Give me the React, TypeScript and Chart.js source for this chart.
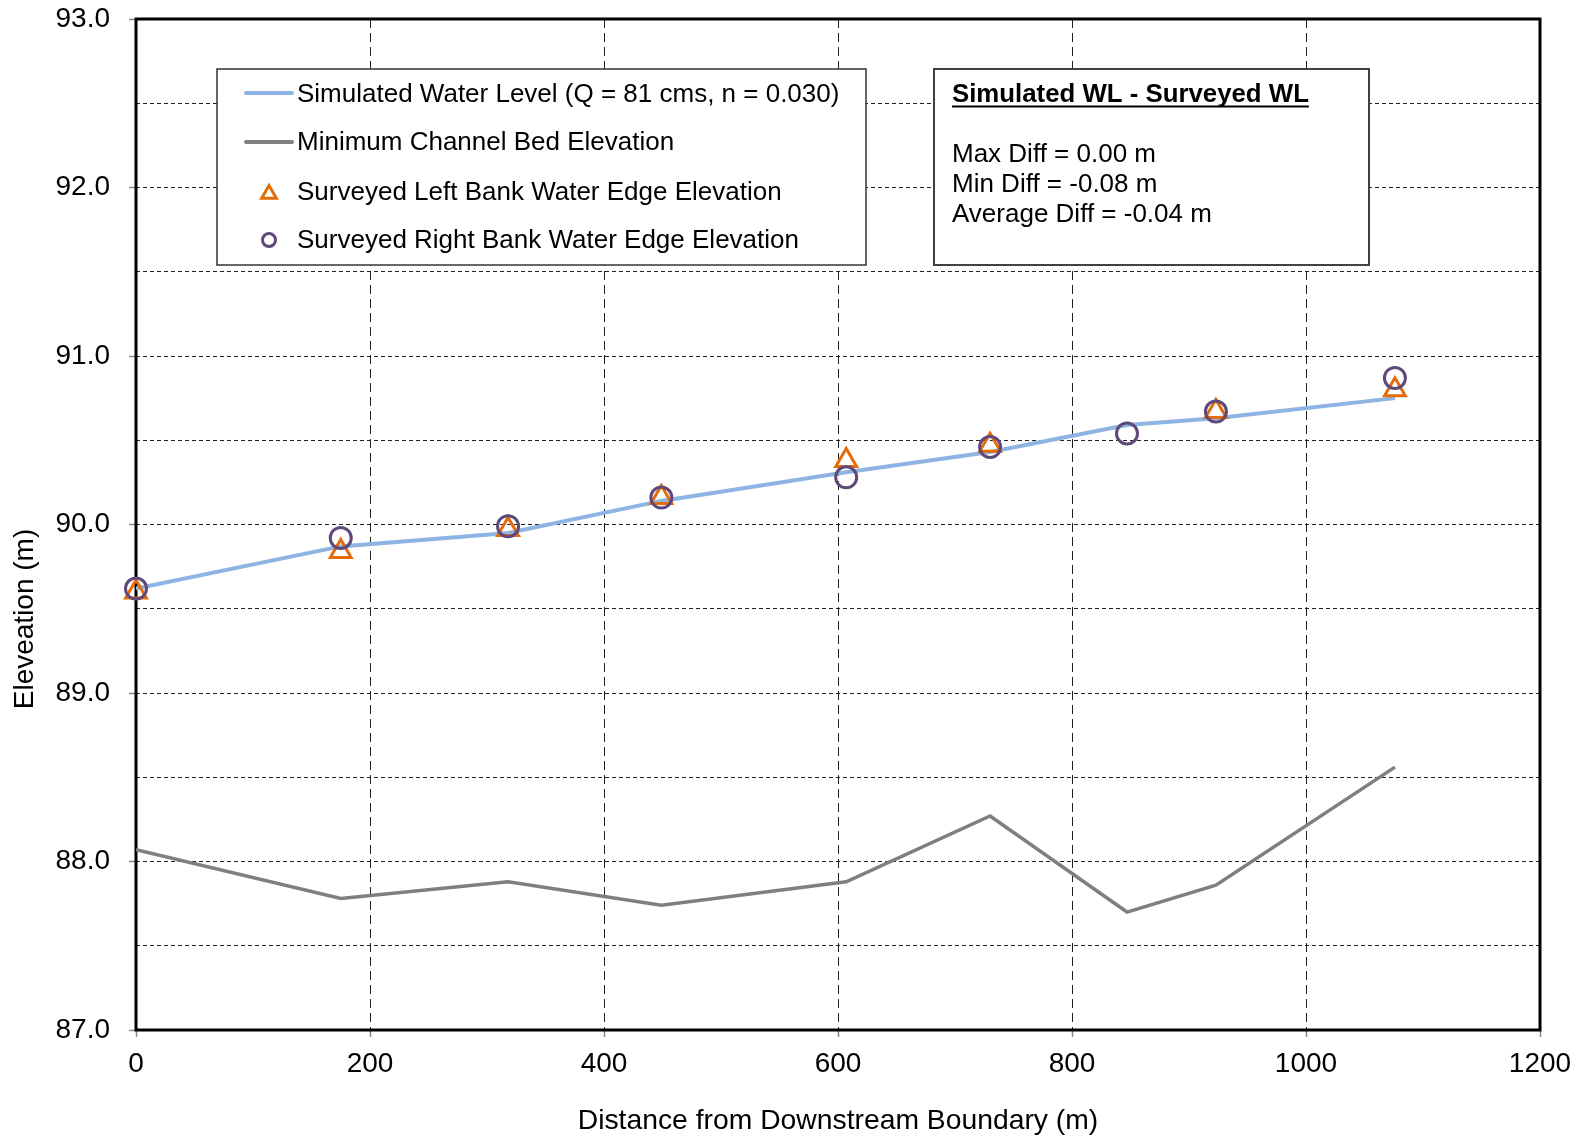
import React, { useEffect, useRef } from 'react';
import { Chart, registerables } from 'chart.js';

Chart.register(...registerables);

// ---------------- data ----------------
const distances = [0, 175, 318, 449, 607, 730, 847, 923, 1076];
const simulatedWL = [89.62, 89.87, 89.95, 90.14, 90.31, 90.43, 90.59, 90.63, 90.75];
const minBedElevation = [88.07, 87.78, 87.88, 87.74, 87.88, 88.27, 87.7, 87.86, 88.56];
const leftBankWL: (number | null)[] = [89.6, 89.84, 89.97, 90.16, 90.38, 90.47, null, 90.67, 90.8];
const rightBankWL = [89.62, 89.92, 89.99, 90.16, 90.28, 90.46, 90.54, 90.67, 90.87];

const seriesLabels = [
  'Simulated Water Level (Q = 81 cms, n = 0.030)',
  'Minimum Channel Bed Elevation',
  'Surveyed Left Bank Water Edge Elevation',
  'Surveyed Right Bank Water Edge Elevation',
];
const statsTitle = 'Simulated WL - Surveyed WL';
const statsLines = ['Max Diff = 0.00 m', 'Min Diff = -0.08 m', 'Average Diff = -0.04 m'];
const xAxisTitle = 'Distance from Downstream Boundary (m)';
const yAxisTitle = 'Eleveation (m)';

const X_MIN = 0;
const X_MAX = 1200;
const X_STEP = 200;
const Y_MIN = 87;
const Y_MAX = 93;
const Y_STEP = 0.5;

// ---------------- styles ----------------
const FONT = 'Arial, "Liberation Sans", sans-serif';
const BLUE = '#8EB4E3';
const GRAY = '#7F7F7F';
const ORANGE = '#E46C0A';
const PURPLE = '#5F497A';

const toPoints = (ys: (number | null)[]) => distances.map((x, i) => ({ x, y: ys[i] }));

const isMajor = (v: number) => Math.abs(v - Math.round(v)) < 1e-6;

function triPath(ctx: CanvasRenderingContext2D, x: number, y: number, r: number) {
  ctx.beginPath();
  ctx.moveTo(x, y - r);
  ctx.lineTo(x + 0.866 * r, y + 0.5 * r);
  ctx.lineTo(x - 0.866 * r, y + 0.5 * r);
  ctx.closePath();
}

const framePlugin = {
  id: 'frame',
  beforeDatasetsDraw(chart: any) {
    const { ctx, chartArea } = chart;
    ctx.save();
    ctx.strokeStyle = '#000';
    ctx.lineWidth = 3;
    ctx.setLineDash([]);
    ctx.strokeRect(chartArea.left, chartArea.top, chartArea.right - chartArea.left, chartArea.bottom - chartArea.top);
    // y axis title
    ctx.translate(25, 619);
    ctx.rotate(-Math.PI / 2);
    ctx.font = `28px ${FONT}`;
    ctx.fillStyle = '#000';
    ctx.textAlign = 'center';
    ctx.textBaseline = 'middle';
    ctx.fillText(yAxisTitle, 0, 0);
    ctx.restore();
  },
};

const boxesPlugin = {
  id: 'boxes',
  afterDraw(chart: any) {
    const ctx: CanvasRenderingContext2D = chart.ctx;
    const labels = chart.data.datasets.map((d: any) => d.label);
    ctx.save();
    ctx.setLineDash([]);
    // legend box
    const lx = 217, ly = 69, lw = 649, lh = 196;
    ctx.fillStyle = '#fff';
    ctx.fillRect(lx, ly, lw, lh);
    ctx.strokeStyle = '#333';
    ctx.lineWidth = 1.5;
    ctx.strokeRect(lx, ly, lw, lh);

    ctx.font = `26px ${FONT}`;
    ctx.textAlign = 'left';
    ctx.textBaseline = 'alphabetic';
    const textX = 297;
    const baselines = [102, 150, 200, 248];
    const centers = [93, 142, 192, 240];

    // line samples
    ctx.lineCap = 'round';
    ctx.lineWidth = 4;
    ctx.strokeStyle = BLUE;
    ctx.beginPath();
    ctx.moveTo(246, centers[0]);
    ctx.lineTo(292, centers[0]);
    ctx.stroke();
    ctx.strokeStyle = GRAY;
    ctx.beginPath();
    ctx.moveTo(246, centers[1]);
    ctx.lineTo(292, centers[1]);
    ctx.stroke();
    ctx.lineCap = 'butt';

    // marker samples
    ctx.lineWidth = 3;
    ctx.strokeStyle = ORANGE;
    triPath(ctx, 269, centers[2] + 2, 8.5);
    ctx.stroke();
    ctx.strokeStyle = PURPLE;
    ctx.beginPath();
    ctx.arc(269, centers[3], 6.5, 0, Math.PI * 2);
    ctx.stroke();

    ctx.fillStyle = '#000';
    labels.forEach((t: string, i: number) => ctx.fillText(t, textX, baselines[i]));

    // stats box
    const sx = 934, sy = 69, sw = 435, sh = 196;
    ctx.fillStyle = '#fff';
    ctx.fillRect(sx, sy, sw, sh);
    ctx.strokeStyle = '#404040';
    ctx.lineWidth = 2;
    ctx.strokeRect(sx, sy, sw, sh);

    ctx.fillStyle = '#000';
    ctx.font = `bold 25.8px ${FONT}`;
    ctx.fillText(statsTitle, 952, 102);
    const tw = ctx.measureText(statsTitle).width;
    ctx.strokeStyle = '#000';
    ctx.lineWidth = 2;
    ctx.beginPath();
    ctx.moveTo(952, 106.5);
    ctx.lineTo(952 + tw, 106.5);
    ctx.stroke();

    ctx.font = `26px ${FONT}`;
    const sBase = [162, 192, 222];
    statsLines.forEach((t, i) => ctx.fillText(t, 952, sBase[i]));
    ctx.restore();
  },
};

const zeroPad = (scale: any) => {
  scale.paddingTop = 0;
  scale.paddingBottom = 0;
  scale.paddingLeft = 0;
  scale.paddingRight = 0;
};

export default function App() {
  const canvasRef = useRef<HTMLCanvasElement | null>(null);

  useEffect(() => {
    document.body.style.margin = '0';
    const canvas = canvasRef.current;
    if (!canvas) return;
    const chart = new Chart(canvas, {
      type: 'line',
      data: {
        datasets: [
          {
            label: seriesLabels[0],
            data: toPoints(simulatedWL),
            borderColor: BLUE,
            borderWidth: 4,
            pointRadius: 0,
            tension: 0,
            order: 3,
          },
          {
            label: seriesLabels[1],
            data: toPoints(minBedElevation),
            borderColor: GRAY,
            borderWidth: 3.5,
            pointRadius: 0,
            tension: 0,
            order: 2,
          },
          {
            label: seriesLabels[2],
            data: toPoints(leftBankWL),
            showLine: false,
            pointStyle: 'triangle',
            pointRadius: 12,
            pointBorderWidth: 3,
            pointBorderColor: ORANGE,
            pointBackgroundColor: 'rgba(0,0,0,0)',
            borderColor: ORANGE,
            order: 1,
            clip: false,
          },
          {
            label: seriesLabels[3],
            data: toPoints(rightBankWL),
            showLine: false,
            pointStyle: 'circle',
            pointRadius: 10.5,
            pointBorderWidth: 3,
            pointBorderColor: PURPLE,
            pointBackgroundColor: 'rgba(0,0,0,0)',
            borderColor: PURPLE,
            order: 0,
            clip: false,
          },
        ],
      } as any,
      options: {
        responsive: false,
        animation: false,
        devicePixelRatio: 1,
        layout: { padding: { top: 19, right: 38, bottom: 0, left: 0 } },
        plugins: {
          legend: { display: false },
          tooltip: { enabled: false },
        },
        scales: {
          x: {
            type: 'linear',
            min: X_MIN,
            max: X_MAX,
            ticks: {
              stepSize: X_STEP,
              color: '#000',
              padding: 10,
              font: { family: FONT, size: 28 },
              maxRotation: 0,
              callback: (v: any) => String(v),
            },
            grid: {
              color: '#222',
              lineWidth: 1,
              tickLength: 7,
              tickColor: '#888',
              tickWidth: 1.5,
            },
            border: { display: false, dash: [9, 5] },
            title: {
              display: true,
              text: xAxisTitle,
              color: '#000',
              font: { family: FONT, size: 28.3 },
              padding: { top: 0, bottom: -2 },
            },
            afterFit: (scale: any) => {
              scale.height = 106;
              zeroPad(scale);
            },
          },
          y: {
            type: 'linear',
            min: Y_MIN,
            max: Y_MAX,
            ticks: {
              stepSize: Y_STEP,
              color: '#000',
              padding: 19,
              font: { family: FONT, size: 28 },
              autoSkip: false,
              callback: (v: any) => (isMajor(Number(v)) ? Number(v).toFixed(1) : ''),
            },
            grid: {
              color: '#222',
              lineWidth: 1,
              tickLength: 7,
              tickWidth: 1.5,
              tickColor: (c: any) => (c.tick && isMajor(c.tick.value) ? '#888' : 'rgba(0,0,0,0)'),
            },
            border: { display: false, dash: [4, 3] },
            title: { display: false, text: yAxisTitle },
            afterFit: (scale: any) => {
              scale.width = 136;
              zeroPad(scale);
            },
          },
        },
      } as any,
      plugins: [framePlugin, boxesPlugin],
    });
    return () => chart.destroy();
  }, []);

  return (
    <canvas
      ref={canvasRef}
      width={1578}
      height={1136}
      style={{ display: 'block', width: '1578px', height: '1136px', background: '#fff' }}
    />
  );
}
